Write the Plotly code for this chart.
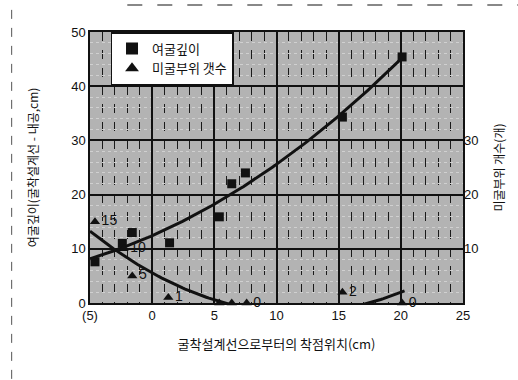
import numpy as np
import plotly.graph_objects as go

# 여굴깊이 (cm) vs. 착점위치 (cm)
depth_x = [-4.6, -2.4, -1.6, 1.4, 5.4, 6.4, 7.5, 15.3, 20.1]
depth_y = [7.6, 11.0, 13.0, 11.1, 15.9, 22.0, 24.0, 34.3, 45.4]

# 미굴부위 갯수 (개) vs. 착점위치 (cm)
count_x = [-4.6, -2.3, -1.6, 1.3, 5.4, 6.4, 7.6, 15.3, 20.1]
count_y = [15, 10, 5, 1, 0, 0, 0, 2, 0]
count_text = ["15", "10", "5", "1", "", "", "0", "2", "0"]

x_ticks = [-5, 0, 5, 10, 15, 20, 25]
x_tick_text = ["(5)", "0", "5", "10", "15", "20", "25"]

# second-order trend lines
fit_x = np.linspace(-5, 20.3, 120)
depth_fit = np.polyval(np.polyfit(depth_x, depth_y, 2), fit_x)
count_fit = np.polyval(np.polyfit(count_x, count_y, 2), fit_x)

tick_font = dict(family="Liberation Sans, Arial, sans-serif", size=13, color="#111")
kr_font = "Noto Sans CJK KR, sans-serif"

fig = go.Figure()

fig.add_trace(go.Scatter(
    x=fit_x, y=depth_fit, mode="lines", showlegend=False,
    line=dict(color="#111", width=3), hoverinfo="skip"))
fig.add_trace(go.Scatter(
    x=fit_x, y=count_fit, mode="lines", showlegend=False, yaxis="y2",
    line=dict(color="#111", width=3), hoverinfo="skip"))

fig.add_trace(go.Scatter(
    x=depth_x, y=depth_y, mode="markers", name="여굴깊이",
    marker=dict(symbol="square", size=9, color="#111"), cliponaxis=False))
fig.add_trace(go.Scatter(
    x=count_x, y=count_y, mode="markers+text", name="미굴부위 갯수", yaxis="y2",
    marker=dict(symbol="triangle-up", size=9, color="#111"),
    text=count_text, textposition="middle right",
    textfont=dict(family="Liberation Sans, Arial, sans-serif", size=14, color="#111"),
    cliponaxis=False))

fig.update_layout(
    width=518, height=380,
    margin=dict(l=90, r=55, t=32, b=77),
    paper_bgcolor="white",
    plot_bgcolor="#b3b3b3",
    xaxis=dict(
        range=[-5, 25], tickvals=x_ticks, ticktext=x_tick_text, tickfont=tick_font,
        showgrid=True, gridcolor="#111", gridwidth=1.5,
        minor=dict(dtick=1, showgrid=True, gridcolor="#1a1a1a", griddash="dash", gridwidth=1),
        zeroline=False, showline=True, linecolor="#111", linewidth=1.5, mirror=True,
        ticks="", ticklen=0,
        title=dict(text="굴착설계선으로부터의 착점위치(cm)",
                   font=dict(family=kr_font, size=13, color="#111"), standoff=18),
    ),
    yaxis=dict(
        range=[0, 50], dtick=10, tickfont=tick_font,
        showgrid=True, gridcolor="#111", gridwidth=1.5,
        minor=dict(dtick=2, showgrid=True, gridcolor="#d0d0d0", griddash="dot", gridwidth=1),
        zeroline=False, showline=True, linecolor="#111", linewidth=1.5, mirror=True,
        ticks="", title=dict(text="여굴깊이(굴착설계선 - 내공,cm)",
                             font=dict(family=kr_font, size=12, color="#111"), standoff=30),
    ),
    yaxis2=dict(
        range=[0, 50], tickvals=[10, 20, 30], tickfont=tick_font,
        overlaying="y", side="right", showgrid=False, zeroline=False,
        title=dict(text="미굴부위 개수(개)", font=dict(family=kr_font, size=12, color="#111"),
                   standoff=18),
    ),
    legend=dict(
        x=0.055, y=1.0, xanchor="left", yanchor="top",
        bgcolor="white", bordercolor="#111", borderwidth=1.5,
        font=dict(family=kr_font, size=13, color="#111"),
        itemsizing="constant", itemwidth=30, tracegroupgap=0,
    ),
)

# faint page edges around the figure
fig.add_shape(type="line", xref="paper", yref="paper", x0=-0.21, x1=-0.21, y0=-0.28, y1=1.1,
              line=dict(color="#555", width=1, dash="dash"))
fig.add_shape(type="line", xref="paper", yref="paper", x0=0.1, x1=1.15, y0=1.1, y1=1.1,
              line=dict(color="#888", width=2, dash="longdash"))

fig.write_html("out.html")
